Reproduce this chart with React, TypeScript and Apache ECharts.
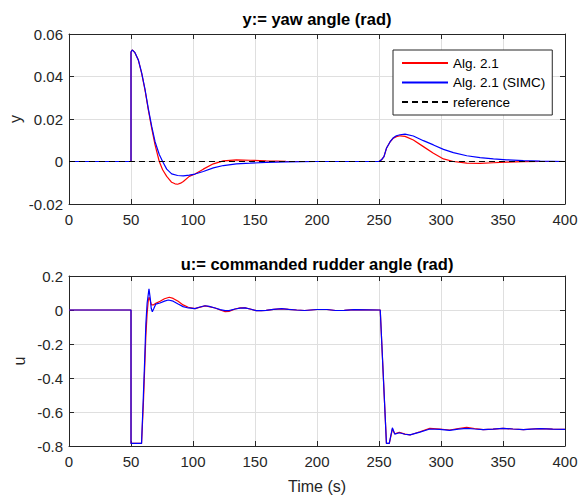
import React, { useEffect, useRef } from "react";
import * as echarts from "echarts";

const FONT = "'Liberation Sans', Arial, Helvetica, sans-serif";
const AX = "#262626";
const GRIDC = "#dfdfdf";

const timeTicks = { min: 0, max: 400, interval: 50 };
const yawTicks = { min: -0.02, max: 0.06, interval: 0.02 };
const rudderTicks = { min: -0.8, max: 0.2, interval: 0.2 };

const seriesNames = ["Alg. 2.1", "Alg. 2.1 (SIMC)", "reference"];
const titles = ["y:= yaw angle (rad)", "u:= commanded rudder angle (rad)"];

// yaw angle y(t), Alg. 2.1
const yawAlg21: [number, number][] = [
  [0, 0], [50, 0], [50, 0.0515], [51, 0.0525], [53.2, 0.0512], [55.9, 0.0478], [58.6, 0.0415],
  [61.3, 0.0336], [64, 0.0242], [66.7, 0.0156], [69.4, 0.0078], [72.8, 0], [75.5, -0.0039],
  [78.8, -0.007], [82.8, -0.0098], [85.5, -0.0105], [87.6, -0.0107], [90, -0.0102], [92.2, -0.0094],
  [97, -0.007], [101.6, -0.0059], [108.3, -0.0036], [116.4, -0.0011], [124.5, 0.0003], [135, 0.0008],
  [146, 0.0006], [159, 0.0003], [175, 0.0001], [200, 0], [250, 0], [252, 0.0008], [254, 0.0023],
  [256, 0.0062], [259, 0.0093], [261.6, 0.011], [264, 0.0117], [267, 0.0121], [271, 0.0118],
  [277.7, 0.0101], [285.8, 0.007], [293.9, 0.0039], [302, 0.0012], [310, 0], [320.8, -0.0008],
  [331.5, -0.0009], [342.3, -0.0006], [353, -0.0003], [366.5, -0.0001], [380, 0], [400, 0],
];

// yaw angle y(t), Alg. 2.1 (SIMC)
const yawSIMC: [number, number][] = [
  [0, 0], [50, 0], [50, 0.0515], [51, 0.0525], [53.2, 0.0512], [55.9, 0.0478], [58.6, 0.0417],
  [61.3, 0.034], [64, 0.0248], [66.7, 0.0165], [69.4, 0.0093], [72.8, 0.0033], [75.5, 0],
  [78.8, -0.0036], [82.8, -0.0058], [87.6, -0.0066], [92.2, -0.0068], [97, -0.0064], [101.6, -0.0059],
  [108.3, -0.0047], [116.4, -0.003], [124.5, -0.0019], [135, -0.0011], [146, -0.0008], [159, -0.0004],
  [175, -0.0002], [200, 0], [250, 0], [252, 0.0008], [254, 0.0023], [256, 0.0062], [259, 0.0093],
  [261.6, 0.0112], [264, 0.0121], [267, 0.0126], [271, 0.0129], [277.7, 0.012], [285.8, 0.0098],
  [293.9, 0.0078], [302, 0.0057], [310, 0.0042], [320.8, 0.0027], [331.5, 0.0018], [342.3, 0.0012],
  [353, 0.0008], [366.5, 0.0004], [380, 0.0002], [400, 0],
];

// reference yaw
const yawRef: [number, number][] = [[0, 0], [400, 0]];

// commanded rudder u(t), Alg. 2.1
const rudderAlg21: [number, number][] = [
  [0, 0], [50, 0], [50, -0.785], [58.5, -0.785], [60, -0.55], [61, -0.35], [62, -0.15], [63, -0.02],
  [64, 0.06], [64.6, 0.075], [65.5, 0.055], [66.5, 0.03], [68, 0.03], [70, 0.04], [73.4, 0.051],
  [77, 0.066], [80.9, 0.075], [84, 0.068], [88, 0.051], [92, 0.03], [96.2, 0.016], [101.6, 0.008],
  [105, 0.015], [109.7, 0.024], [113, 0.02], [117.8, 0.012], [122, 0], [125.9, -0.01], [129, -0.008],
  [134, 0.006], [138, 0.012], [142, 0.012], [146, 0.006], [151, -0.004], [155, -0.004], [159, -0.002],
  [165, 0.004], [171.5, 0.007], [177, 0.004], [183.6, 0], [190, -0.003], [200, 0.003], [208, 0.003],
  [215, -0.003], [222, -0.002], [230, 0.002], [240, 0.001], [250, 0], [251, 0], [256, -0.785],
  [258.3, -0.785], [260.8, -0.7], [262.7, -0.728], [266.4, -0.72], [271, -0.73], [275, -0.735],
  [283, -0.716], [291, -0.696], [299, -0.7], [307, -0.706], [314, -0.697], [320.7, -0.69],
  [327, -0.697], [334, -0.704], [342, -0.701], [350, -0.696], [358, -0.7], [366.5, -0.704],
  [373, -0.7], [380, -0.698], [390, -0.701], [400, -0.702],
];

// commanded rudder u(t), Alg. 2.1 (SIMC)
const rudderSIMC: [number, number][] = [
  [0, 0], [50, 0], [50, -0.785], [58.5, -0.785], [60, -0.5], [61, -0.3], [62, -0.08], [63, 0.04],
  [64.5, 0.124], [65.5, 0.07], [66.3, 0.01], [67.2, -0.01], [68.5, 0.01], [70, 0.035], [73.4, 0.041],
  [77, 0.052], [80.1, 0.059], [84, 0.052], [88, 0.035], [92, 0.02], [96.2, 0.012], [101.6, 0.008],
  [105, 0.016], [109.7, 0.025], [113, 0.021], [117.8, 0.012], [122, 0.002], [125.9, -0.004],
  [129, -0.004], [134, 0.006], [138, 0.011], [142, 0.012], [146, 0.006], [151, -0.004], [155, -0.004],
  [159, -0.002], [165, 0.004], [171.5, 0.008], [177, 0.004], [183.6, 0], [190, -0.003], [200, 0.003],
  [208, 0.003], [215, -0.003], [222, -0.002], [230, 0.002], [240, 0.001], [250, 0], [251, 0],
  [256, -0.785], [258.3, -0.785], [260.8, -0.693], [262.7, -0.73], [266.4, -0.722], [271, -0.731],
  [275, -0.735], [283, -0.718], [291, -0.7], [299, -0.702], [307, -0.708], [314, -0.701],
  [320.7, -0.696], [327, -0.7], [334, -0.704], [342, -0.701], [350, -0.696], [358, -0.7],
  [366.5, -0.704], [373, -0.701], [380, -0.698], [390, -0.701], [400, -0.702],
];

const TICK_FS = 15;
const TITLE_FS = 16.5;
const GRID_LEFT = 69;
const GRID_W = 496;
const GRID_H = 170;
const TOPS = [34, 276];

function buildOption(): any {
  const tickStyle = { inside: true, length: 5, lineStyle: { color: AX, width: 1 } };
  const lineAx = { show: true, onZero: false, lineStyle: { color: AX, width: 1 } };
  const xMain = (gi: number, withName: boolean) => ({
    type: "value", gridIndex: gi, position: "bottom", ...timeTicks,
    axisLine: lineAx, axisTick: tickStyle,
    axisLabel: { fontSize: TICK_FS, color: AX, fontFamily: FONT, margin: 8 },
    splitLine: { show: true, lineStyle: { color: GRIDC, width: 1 } },
    name: withName ? "Time (s)" : "", nameLocation: "middle", nameGap: 32, nameMoveOverlap: false,
    nameTextStyle: { fontSize: 16, color: AX, fontFamily: FONT },
  });
  const xTop = (gi: number) => ({
    type: "value", gridIndex: gi, position: "top", ...timeTicks,
    axisLine: lineAx, axisTick: tickStyle, axisLabel: { show: false }, splitLine: { show: false },
  });
  const yMain = (gi: number, ticks: any, name: string, gap: number) => ({
    type: "value", gridIndex: gi, position: "left", ...ticks,
    axisLine: lineAx, axisTick: tickStyle,
    axisLabel: { fontSize: TICK_FS, color: AX, fontFamily: FONT, margin: 6 },
    splitLine: { show: true, lineStyle: { color: GRIDC, width: 1 } },
    name, nameLocation: "middle", nameGap: gap, nameRotate: 90, nameMoveOverlap: false,
    nameTextStyle: { fontSize: 16, color: AX, fontFamily: FONT },
  });
  const yRight = (gi: number, ticks: any) => ({
    type: "value", gridIndex: gi, position: "right", ...ticks,
    axisLine: lineAx, axisTick: tickStyle, axisLabel: { show: false }, splitLine: { show: false },
  });
  const line = (name: string, data: any, xi: number, yi: number, color: string, z: number, dashed = false) => ({
    type: "line", name, data, xAxisIndex: xi, yAxisIndex: yi, symbol: "none", showSymbol: false,
    silent: true, z, smooth: false,
    lineStyle: { color, width: dashed ? 1.1 : 1.2, type: dashed ? [6, 4] : "solid" },
    itemStyle: { color },
    emphasis: { disabled: true },
  });
  return {
    animation: false,
    backgroundColor: "#ffffff",
    textStyle: { fontFamily: FONT },
    grid: TOPS.map((t) => ({
      left: GRID_LEFT, top: t, width: GRID_W, height: GRID_H,
      containLabel: false, outerBoundsMode: "none",
    })),
    xAxis: [xMain(0, false), xMain(1, true), xTop(0), xTop(1)],
    yAxis: [
      yMain(0, yawTicks, "y", 46),
      yMain(1, rudderTicks, "u", 42),
      yRight(0, yawTicks),
      yRight(1, rudderTicks),
    ],
    legend: {
      orient: "vertical", left: 393, top: 50, itemWidth: 46, itemHeight: 14, itemGap: 5.5,
      padding: [6, 7, 6, 8], borderColor: AX, borderWidth: 1, backgroundColor: "#ffffff",
      textStyle: { fontSize: 13.5, color: "#000", fontFamily: FONT },
      itemStyle: { opacity: 0 },
      data: seriesNames, selectedMode: false,
    },
    graphic: [
      { type: "text", x: 317, y: 19, style: { text: titles[0], fontSize: TITLE_FS, fontWeight: "bold", fill: "#000", fontFamily: FONT, align: "center", verticalAlign: "middle" } },
      { type: "text", x: 317, y: 264, style: { text: titles[1], fontSize: TITLE_FS, fontWeight: "bold", fill: "#000", fontFamily: FONT, align: "center", verticalAlign: "middle" } },
    ],
    series: [
      line(seriesNames[0], yawAlg21, 0, 0, "#ff0000", 2),
      line(seriesNames[1], yawSIMC, 0, 0, "#0000ff", 3),
      line(seriesNames[2], yawRef, 0, 0, "#000000", 4, true),
      line(seriesNames[0], rudderAlg21, 1, 1, "#ff0000", 2),
      line(seriesNames[1], rudderSIMC, 1, 1, "#0000ff", 3),
    ],
  };
}

export default function App() {
  const ref = useRef<HTMLDivElement>(null);
  useEffect(() => {
    if (!ref.current) return;
    const chart = echarts.init(ref.current, null, { renderer: "svg" });
    chart.setOption(buildOption());
    return () => chart.dispose();
  }, []);
  return <div ref={ref} style={{ position: "fixed", left: 0, top: 0, width: 580, height: 495 }} />;
}
